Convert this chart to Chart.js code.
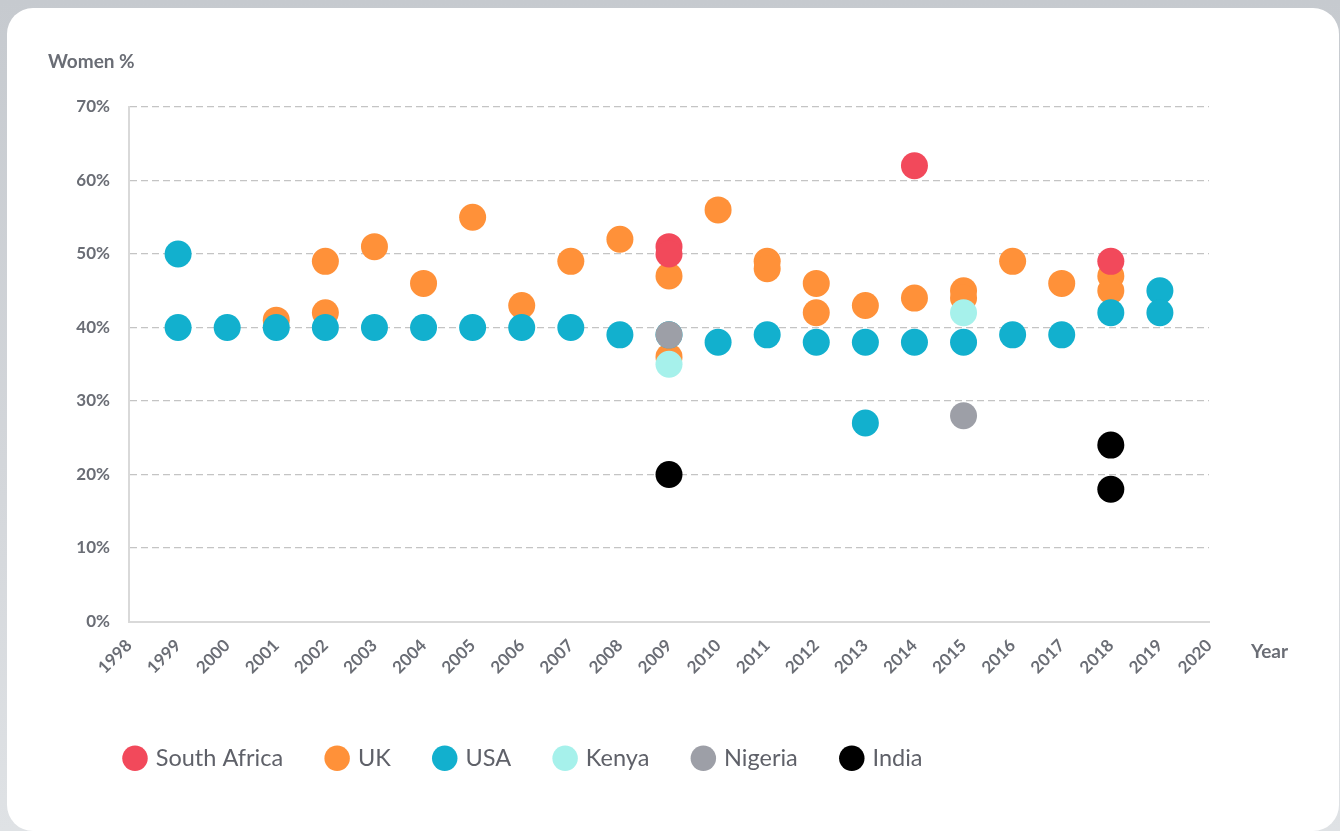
<!DOCTYPE html>
<html>
<head>
<meta charset="utf-8">
<script src="https://cdn.jsdelivr.net/npm/chart.js@4"></script>
<style>
  html, body { margin: 0; padding: 0; }
  body {
    width: 1340px; height: 831px; overflow: hidden; position: relative;
    background: linear-gradient(180deg, #c6cacf 0%, #d4d7db 60%, #dfe2e5 100%);
  }
  .card {
    position: absolute; left: 7px; top: 8px; width: 1332px; height: 823px;
    background: #fff; border-radius: 26px;
  }
  #wrap { position: absolute; left: 0; top: 0; width: 1340px; height: 831px; }
</style>
</head>
<body>
<div class="card"></div>
<div id="wrap"><canvas id="chart"></canvas></div>
<script>
// Year range and y ticks
const yearMin = 1998;
const yearMax = 2020;
const yTicks = [0, 10, 20, 30, 40, 50, 60, 70];

// Series: years + women %
const southAfricaYears = [2009, 2009, 2014, 2018];
const southAfricaValues = [51, 50, 62, 49];

const ukYears = [2001, 2002, 2002, 2003, 2004, 2005, 2006, 2007, 2008, 2009, 2009, 2010, 2011, 2011, 2012, 2012, 2013, 2014, 2015, 2015, 2016, 2017, 2018, 2018];
const ukValues = [41, 49, 42, 51, 46, 55, 43, 49, 52, 47, 36, 56, 49, 48, 46, 42, 43, 44, 45, 44, 49, 46, 47, 45];

const usaYears = [1999, 1999, 2000, 2001, 2002, 2003, 2004, 2005, 2006, 2007, 2008, 2009, 2010, 2011, 2012, 2013, 2013, 2014, 2015, 2016, 2017, 2018, 2019, 2019];
const usaValues = [50, 40, 40, 40, 40, 40, 40, 40, 40, 40, 39, 39, 38, 39, 38, 38, 27, 38, 38, 39, 39, 42, 45, 42];

const kenyaYears = [2009, 2015];
const kenyaValues = [35, 42];

const nigeriaYears = [2009, 2015];
const nigeriaValues = [39, 28];

const indiaYears = [2009, 2018, 2018];
const indiaValues = [20, 24, 18];

const textGrey = '#6a6d75';

function pts(xs, ys) {
  return xs.map((x, i) => ({ x: x, y: ys[i] }));
}

function series(label, xs, ys, color, order) {
  return {
    label: label,
    data: pts(xs, ys),
    backgroundColor: color,
    borderColor: color,
    borderWidth: 0,
    pointRadius: 13.5,
    pointHoverRadius: 13.5,
    order: order
  };
}

// axis titles
const axisTitles = {
  id: 'axisTitles',
  afterDraw(chart) {
    const { ctx, chartArea } = chart;
    ctx.save();
    ctx.fillStyle = textGrey;
    ctx.font = 'bold 19px Lato';
    ctx.textBaseline = 'middle';
    ctx.textAlign = 'left';
    ctx.fillText('Women %', 48, 62);
    ctx.fillText('Year', chartArea.right + 42, chartArea.bottom + 30);
    ctx.restore();
  }
};

// nudge the legend a little to the right
const legendShift = {
  id: 'legendShift',
  afterLayout(chart) {
    if (chart.legend) {
      chart.legend.left += 5;
      chart.legend.right += 5;
    }
  }
};

new Chart(document.getElementById('chart'), {
  type: 'scatter',
  data: {
    datasets: [
      series('South Africa', southAfricaYears, southAfricaValues, '#f2495b', 0),
      series('UK', ukYears, ukValues, '#ff9139', 5),
      series('USA', usaYears, usaValues, '#12b0ce', 4),
      series('Kenya', kenyaYears, kenyaValues, '#a6f1eb', 1),
      series('Nigeria', nigeriaYears, nigeriaValues, '#9d9fa7', 2),
      series('India', indiaYears, indiaValues, '#000000', 3)
    ]
  },
  options: {
    responsive: true,
    maintainAspectRatio: false,
    animation: false,
    layout: { padding: { left: 76, right: 131, top: 107, bottom: 51 } },
    plugins: {
      tooltip: { enabled: false },
      legend: {
        position: 'bottom',
        align: 'start',
        labels: {
          usePointStyle: true,
          pointStyle: 'circle',
          boxWidth: 18,
          boxHeight: 18,
          padding: 45,
          color: '#5f6169',
          font: { family: 'Lato', size: 23.5 },
          sort: (a, b) => a.datasetIndex - b.datasetIndex
        }
      }
    },
    scales: {
      x: {
        type: 'linear',
        min: yearMin,
        max: yearMax,
        afterFit: s => { s.height = 80; },
        grid: { display: false, drawTicks: false },
        border: { display: true, color: '#d9d9d9', width: 2 },
        ticks: {
          stepSize: 1,
          minRotation: 45,
          maxRotation: 45,
          padding: 14,
          color: textGrey,
          font: { family: 'Lato', size: 17, weight: 'bold' },
          callback: v => String(v)
        }
      },
      y: {
        min: yTicks[0],
        max: yTicks[yTicks.length - 1],
        afterFit: s => { s.width = 53; },
        afterBuildTicks: s => { s.ticks = yTicks.map(v => ({ value: v })); },
        grid: {
          drawTicks: false,
          color: c => c.tick && c.tick.value === 0 ? 'rgba(0,0,0,0)' : '#c4c4c4',
          lineWidth: 1.3
        },
        border: { display: true, color: '#d9d9d9', width: 2, dash: [7, 4] },
        ticks: {
          padding: 19,
          color: textGrey,
          font: { family: 'Lato', size: 17, weight: 'bold' },
          callback: v => v + '%'
        }
      }
    }
  },
  plugins: [axisTitles, legendShift]
});
</script>
</body>
</html>
